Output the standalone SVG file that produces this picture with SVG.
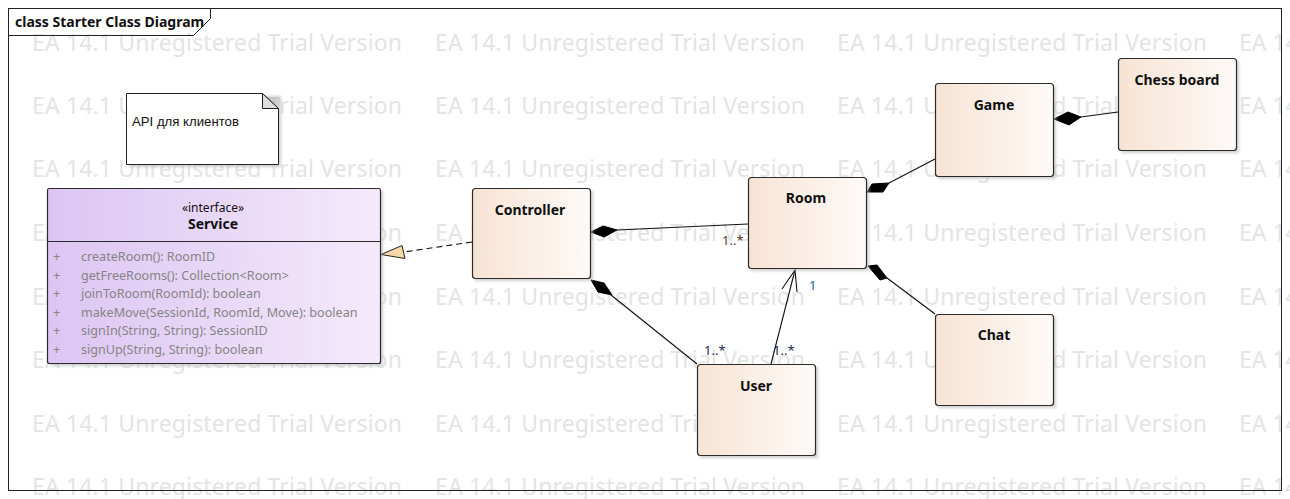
<svg xmlns="http://www.w3.org/2000/svg" width="1290" height="499" viewBox="0 0 1290 499">
<defs>
<linearGradient id="cls" x1="0" y1="0" x2="1" y2="0">
<stop offset="0" stop-color="#f7e3d4"/>
<stop offset="1" stop-color="#fefaf8"/>
</linearGradient>
<linearGradient id="ifc" x1="0" y1="0" x2="1" y2="0">
<stop offset="0" stop-color="#dcc5f3"/>
<stop offset="1" stop-color="#f4eafb"/>
</linearGradient>
<filter id="sh" x="-10%" y="-10%" width="130%" height="130%">
<feGaussianBlur stdDeviation="1.5"/>
</filter>
</defs>
<style>
.wm{font-family:"Noto Sans","Open Sans",sans-serif;font-size:23px;fill:#e4e4e4}
.box{fill:url(#cls);stroke:#2b2b2b;stroke-width:1.2}
.shadow{fill:#b0b0b0;opacity:0.6;filter:url(#sh)}
.name{font-family:"Noto Sans","Open Sans",sans-serif;font-size:14px;font-weight:bold;fill:#111;text-anchor:middle}
.attr{font-family:"Noto Sans","Open Sans",sans-serif;font-size:12.6px;fill:#858585}
.ln{stroke:#111;stroke-width:1.1;fill:none}
.dia{fill:#000;stroke:#000;stroke-width:1}
.lbl{font-family:"Noto Sans","Open Sans",sans-serif;font-size:13px}
</style>
<rect x="0" y="0" width="1290" height="499" fill="#fff"/>
<g id="watermark">
<text class="wm" x="32" y="51" textLength="370">EA 14.1 Unregistered Trial Version</text>
<text class="wm" x="435" y="51" textLength="370">EA 14.1 Unregistered Trial Version</text>
<text class="wm" x="837" y="51" textLength="370">EA 14.1 Unregistered Trial Version</text>
<text class="wm" x="1239" y="51">EA 14.1 Unregistered Trial Version</text>
<text class="wm" x="32" y="114" textLength="370">EA 14.1 Unregistered Trial Version</text>
<text class="wm" x="435" y="114" textLength="370">EA 14.1 Unregistered Trial Version</text>
<text class="wm" x="837" y="114" textLength="370">EA 14.1 Unregistered Trial Version</text>
<text class="wm" x="1239" y="114">EA 14.1 Unregistered Trial Version</text>
<text class="wm" x="32" y="177" textLength="370">EA 14.1 Unregistered Trial Version</text>
<text class="wm" x="435" y="177" textLength="370">EA 14.1 Unregistered Trial Version</text>
<text class="wm" x="837" y="177" textLength="370">EA 14.1 Unregistered Trial Version</text>
<text class="wm" x="1239" y="177">EA 14.1 Unregistered Trial Version</text>
<text class="wm" x="32" y="241" textLength="370">EA 14.1 Unregistered Trial Version</text>
<text class="wm" x="435" y="241" textLength="370">EA 14.1 Unregistered Trial Version</text>
<text class="wm" x="837" y="241" textLength="370">EA 14.1 Unregistered Trial Version</text>
<text class="wm" x="1239" y="241">EA 14.1 Unregistered Trial Version</text>
<text class="wm" x="32" y="305" textLength="370">EA 14.1 Unregistered Trial Version</text>
<text class="wm" x="435" y="305" textLength="370">EA 14.1 Unregistered Trial Version</text>
<text class="wm" x="837" y="305" textLength="370">EA 14.1 Unregistered Trial Version</text>
<text class="wm" x="1239" y="305">EA 14.1 Unregistered Trial Version</text>
<text class="wm" x="32" y="368" textLength="370">EA 14.1 Unregistered Trial Version</text>
<text class="wm" x="435" y="368" textLength="370">EA 14.1 Unregistered Trial Version</text>
<text class="wm" x="837" y="368" textLength="370">EA 14.1 Unregistered Trial Version</text>
<text class="wm" x="1239" y="368">EA 14.1 Unregistered Trial Version</text>
<text class="wm" x="32" y="432" textLength="370">EA 14.1 Unregistered Trial Version</text>
<text class="wm" x="435" y="432" textLength="370">EA 14.1 Unregistered Trial Version</text>
<text class="wm" x="837" y="432" textLength="370">EA 14.1 Unregistered Trial Version</text>
<text class="wm" x="1239" y="432">EA 14.1 Unregistered Trial Version</text>
<text class="wm" x="32" y="495" textLength="370">EA 14.1 Unregistered Trial Version</text>
<text class="wm" x="435" y="495" textLength="370">EA 14.1 Unregistered Trial Version</text>
<text class="wm" x="837" y="495" textLength="370">EA 14.1 Unregistered Trial Version</text>
<text class="wm" x="1239" y="495">EA 14.1 Unregistered Trial Version</text>
</g>
<g id="frame">
<rect x="8.5" y="8.5" width="1273" height="482" fill="none" stroke="#222" stroke-width="1"/>
<path d="M8.5 35.5 H193.5 L210.5 18.5 V8.5" fill="none" stroke="#222" stroke-width="1"/>
<text x="15" y="27" font-family="'Noto Sans','Open Sans',sans-serif" font-size="14" font-weight="bold" fill="#111">class Starter Class Diagram</text>
</g>
<g id="note">
<rect x="129" y="96" width="152" height="71" class="shadow"/>
<path d="M126.5 93.5 H262.5 L278.5 108.5 V164.5 H126.5 Z" fill="#fff" stroke="#222" stroke-width="1"/>
<path d="M262.5 93.5 V108.5 H278.5 Z" fill="#dedede" stroke="#222" stroke-width="1"/>
<text x="132" y="126" font-family="'Liberation Sans','Noto Sans',sans-serif" font-size="13.2" fill="#111">API для клиентов</text>
</g>
<g id="connectors">
<line x1="472" y1="242" x2="404" y2="252" class="ln" stroke-dasharray="6,4"/>
<polygon points="381,254.5 402,245.5 405,258.5" fill="#f8d8a6" stroke="#222" stroke-width="1"/>
<line x1="617" y1="230" x2="748" y2="224" class="ln"/>
<polygon points="591,232 603,226 617,230 604,237" class="dia"/>
<line x1="611" y1="295" x2="697" y2="364" class="ln"/>
<polygon points="591,280 604,283 612,295 598,292" class="dia"/>
<line x1="771" y1="364" x2="795" y2="270" class="ln"/>
<path d="M782 289 L795 270 L797 292" class="ln"/>
<line x1="889" y1="183" x2="935" y2="159" class="ln"/>
<polygon points="867,192 872,184 889,183 883,192" class="dia"/>
<line x1="1081" y1="117" x2="1118" y2="112" class="ln"/>
<polygon points="1054,119 1068,112 1081,117 1069,125" class="dia"/>
<line x1="887" y1="278" x2="935" y2="314" class="ln"/>
<polygon points="868,266 877,265 887,278 880,280" class="dia"/>
<text class="lbl" x="722" y="245" fill="#5e4020">1..*</text>
<text class="lbl" x="809" y="290" fill="#1a5fb4">1</text>
<text class="lbl" x="704" y="355" fill="#1a2850">1..*</text>
<text class="lbl" x="773" y="355" fill="#1a2850">1..*</text>
</g>
<g id="Service">
<rect x="50" y="191" width="333" height="175" class="shadow"/>
<rect x="47.5" y="188.5" width="333" height="175" rx="2" fill="url(#ifc)" stroke="#2b2b2b" stroke-width="1.2"/>
<line x1="47.5" y1="241.5" x2="380.5" y2="241.5" stroke="#2b2b2b" stroke-width="1"/>
<text x="213" y="212" text-anchor="middle" font-family="'Noto Sans','Open Sans',sans-serif" font-size="12" fill="#111">«interface»</text>
<text class="name" x="213" y="229">Service</text>
<g class="attr">
<text x="53" y="261">+</text><text x="81" y="261">createRoom(): RoomID</text>
<text x="53" y="280">+</text><text x="81" y="280">getFreeRooms(): Collection&lt;Room&gt;</text>
<text x="53" y="298">+</text><text x="81" y="298">joinToRoom(RoomId): boolean</text>
<text x="53" y="317">+</text><text x="81" y="317">makeMove(SessionId, RoomId, Move): boolean</text>
<text x="53" y="335">+</text><text x="81" y="335">signIn(String, String): SessionID</text>
<text x="53" y="354">+</text><text x="81" y="354">signUp(String, String): boolean</text>
</g>
</g>
<g id="Controller">
<rect x="475" y="191" width="118" height="90" class="shadow"/>
<rect x="472.5" y="188.5" width="118" height="90" rx="3" class="box"/>
<text class="name" x="530" y="215">Controller</text>
</g>
<g id="Room">
<rect x="751" y="180" width="118" height="91" class="shadow"/>
<rect x="748.5" y="177.5" width="118" height="91" rx="3" class="box"/>
<text class="name" x="806" y="203">Room</text>
</g>
<g id="Game">
<rect x="938" y="86" width="118" height="93" class="shadow"/>
<rect x="935.5" y="83.5" width="118" height="93" rx="3" class="box"/>
<text class="name" x="994" y="110">Game</text>
</g>
<g id="ChessBoard">
<rect x="1121" y="61" width="118" height="92" class="shadow"/>
<rect x="1118.5" y="58.5" width="118" height="92" rx="3" class="box"/>
<text class="name" x="1177" y="85">Chess board</text>
</g>
<g id="Chat">
<rect x="938" y="317" width="118" height="91" class="shadow"/>
<rect x="935.5" y="314.5" width="118" height="91" rx="3" class="box"/>
<text class="name" x="994" y="340">Chat</text>
</g>
<g id="User">
<rect x="700" y="367" width="118" height="91" class="shadow"/>
<rect x="697.5" y="364.5" width="118" height="91" rx="3" class="box"/>
<text class="name" x="756" y="391">User</text>
</g>
</svg>
